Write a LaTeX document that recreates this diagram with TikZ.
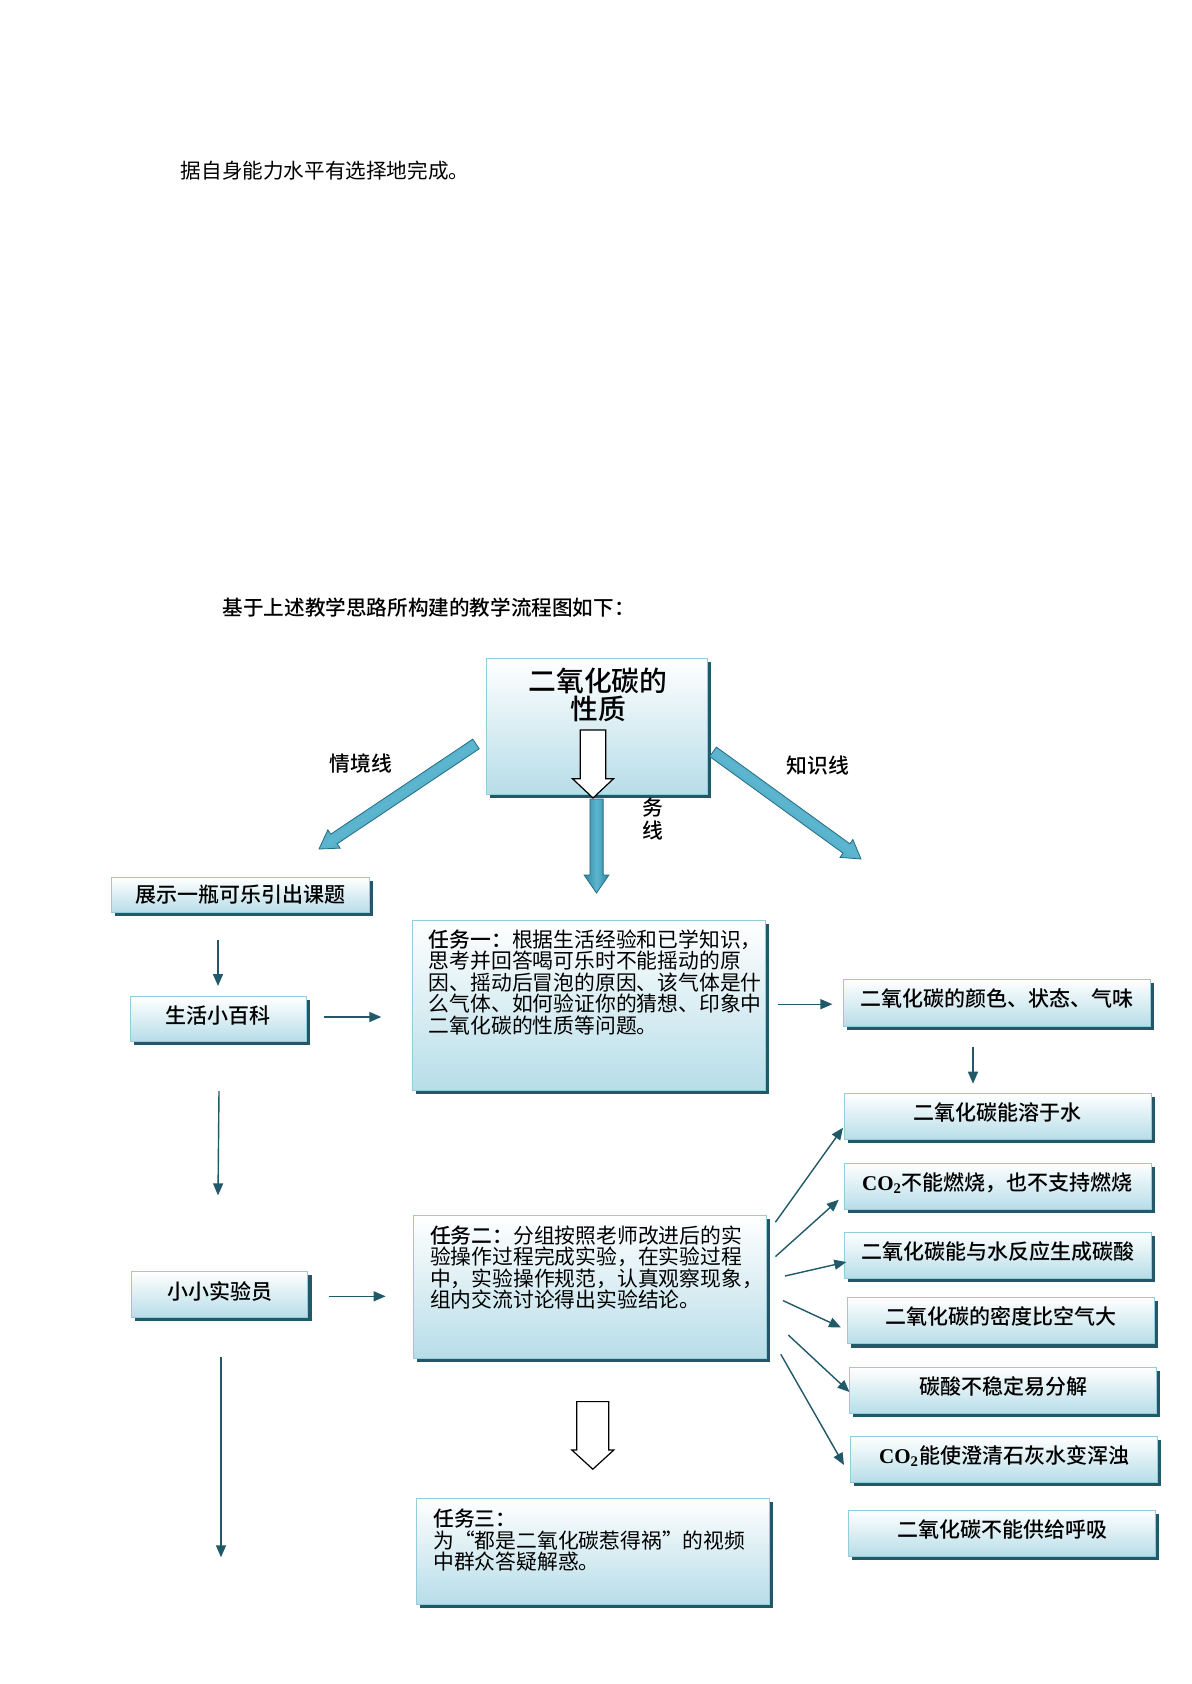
\documentclass[tikz,border=0pt]{standalone}
\usepackage{fontspec}
\setmainfont{Liberation Serif}
\newfontfamily\cjk{Noto Sans CJK SC}
\IfFontExistsTF{Noto Sans CJK SC Medium}
  {\newfontfamily\cjkm{Noto Sans CJK SC Medium}}
  {\newfontfamily\cjkm[FakeBold=1.2]{Noto Sans CJK SC}}
\newfontfamily\lsr{Liberation Serif}
\usetikzlibrary{arrows.meta,calc,shadows}
\definecolor{boxfill}{RGB}{183,221,232}
\definecolor{boxedge}{RGB}{147,205,221}
\definecolor{shadowc}{RGB}{33,89,104}
\definecolor{arrc}{RGB}{33,89,104}
\definecolor{tealD}{RGB}{46,136,163}
\definecolor{tealL}{RGB}{92,182,207}
\definecolor{tealB}{RGB}{36,108,130}
\newcommand{\fatarrow}[6]{%
  \coordinate (fa-h) at ($(#2)!#5!(#1)$);
  \path[#6] ($(#1)!#3!90:(#2)$) -- ($(fa-h)!#3!90:(#2)$) -- ($(fa-h)!#4!90:(#2)$) -- (#2)
     -- ($(fa-h)!#4!-90:(#2)$) -- ($(fa-h)!#3!-90:(#2)$) -- ($(#1)!#3!-90:(#2)$) -- cycle;}
\newcommand{\cotwo}{{\lsr\bfseries CO\textsubscript{2}}}
\begin{document}
\begin{tikzpicture}[x=0.5pt,y=-0.5pt,
  gbox/.style={rectangle, draw=boxedge, line width=0.5pt, top color=white, bottom color=boxfill,
    drop shadow={shadow xshift=1.8pt, shadow yshift=-1.8pt, opacity=1, fill=shadowc}, inner sep=0pt},
  lbl/.style={gbox, minimum width=153.5pt, minimum height=23.2pt,
    font=\cjkm\fontsize{10.5pt}{12pt}\selectfont, text depth=5pt},
  tasktxt/.style={anchor=north west, inner sep=0pt, align=left,
    font=\cjk\fontsize{10.4pt}{10.75pt}\selectfont},
  side/.style={inner sep=0pt, font=\cjkm\fontsize{10.4pt}{11pt}\selectfont, align=center},
  conn/.style={draw=arrc, line width=0.7pt, -{Triangle[length=6pt,width=5pt]}},
  hollow/.style={fill=white, draw=black, line width=0.6pt},
  tealarrow/.style={draw=tealB, line width=0.4pt, left color=tealD, right color=tealD, middle color=tealL}
]
\useasboundingbox (0,0) rectangle (1191,1684);
\fill[white] (0,0) rectangle (1191,1684);

% page text
\node[anchor=west, inner sep=0pt, font=\cjk\fontsize{10.3pt}{12pt}\selectfont] (p1) at (180.4,170.8) {据自身能力水平有选择地完成。};
\node[anchor=west, inner sep=0pt, font=\cjkm\fontsize{10.3pt}{12pt}\selectfont] (p2) at (222.3,607.9) {基于上述教学思路所构建的教学流程图如下：};

% top box
\node[gbox, minimum width=110.5pt, minimum height=68pt] (top) at (597,726.4) {};
\node[inner sep=0pt, align=center, font=\cjkm\fontsize{13.9pt}{14pt}\selectfont] (ttl) at (598,695) {二氧化碳的\\性质};
\coordinate (h1s) at (593,730);
\coordinate (h1e) at (593,798);
\fatarrow{h1s}{h1e}{6.4pt}{10.25pt}{9.65pt}{hollow}

% thick teal arrows
\coordinate (dS) at (596.5,799);
\coordinate (dE) at (596.5,893);
\fatarrow{dS}{dE}{3.3pt}{6.2pt}{9pt}{tealarrow}
\coordinate (lS) at (476,744);
\coordinate (lE) at (319,849);
\fatarrow{lS}{lE}{2.9pt}{5.5pt}{9pt}{tealarrow, shading angle=33.8}
\coordinate (rS) at (713,751.8);
\coordinate (rE) at (861,859);
\fatarrow{rS}{rE}{2.9pt}{5.5pt}{9pt}{tealarrow, shading angle=-35.9}

\node[side] (qj) at (361,763.6) {情境线};
\node[side] (zs) at (818,765.8) {知识线};
\node[side, font=\cjkm\fontsize{10.4pt}{11.2pt}\selectfont] (rw) at (653,819) {务\\线};

% left column
\node[gbox, minimum width=128.6pt, minimum height=17.5pt, font=\cjkm\fontsize{10.5pt}{12pt}\selectfont] (b1) at (240.4,895) {展示一瓶可乐引出课题};
\node[gbox, minimum width=88.4pt, minimum height=22.4pt, font=\cjkm\fontsize{10.5pt}{12pt}\selectfont, text depth=4pt] (b2) at (218.4,1019) {生活小百科};
\node[gbox, minimum width=88.4pt, minimum height=22.9pt, font=\cjkm\fontsize{10.5pt}{12pt}\selectfont, text depth=4pt] (b3) at (219.5,1294.5) {小小实验员};

% task boxes
\node[gbox, minimum width=176.5pt, minimum height=85.2pt] (t1) at (588.9,1005.6) {};
\node[tasktxt] (t1t) at (428.5,929) {{\cjkm 任务一：}根据生活经验和已学知识，\\思考并回答喝可乐时不能摇动的原\\因、摇动后冒泡的原因、该气体是什\\么气体、如何验证你的猜想、印象中\\二氧化碳的性质等问题。};
\node[gbox, minimum width=176.5pt, minimum height=71.2pt] (t2) at (590,1287) {};
\node[tasktxt] (t2t) at (429.6,1225) {{\cjkm 任务二：}分组按照老师改进后的实\\验操作过程完成实验，在实验过程\\中，实验操作规范，认真观察现象，\\组内交流讨论得出实验结论。};
\node[gbox, minimum width=176.5pt, minimum height=53pt] (t3) at (593.2,1551.2) {};
\node[tasktxt] (t3t) at (432.8,1508.6) {{\cjkm 任务三：}\\为“都是二氧化碳惹得祸”的视频\\中群众答疑解惑。};
\coordinate (h2s) at (592.8,1401.6);
\coordinate (h2e) at (592.8,1469.2);
\fatarrow{h2s}{h2e}{8pt}{10.5pt}{9.6pt}{hollow}

% knowledge boxes
\node[lbl] (k1) at (996.5,1002.8) {二氧化碳的颜色、状态、气味};
\node[lbl] (k2) at (997.5,1116.6) {二氧化碳能溶于水};
\node[lbl] (k3) at (997.5,1186.3) {\cotwo 不能燃烧，也不支持燃烧};
\node[lbl] (k4) at (997.5,1255.3) {二氧化碳能与水反应生成碳酸};
\node[lbl] (k5) at (1000.9,1320.7) {二氧化碳的密度比空气大};
\node[lbl] (k6) at (1003,1390.5) {碳酸不稳定易分解};
\node[lbl] (k7) at (1004.1,1459.3) {\cotwo 能使澄清石灰水变浑浊};
\node[lbl] (k8) at (1002,1533.3) {二氧化碳不能供给呼吸};

% thin connectors
\coordinate (a1s) at (218,939.8);   \coordinate (a1e) at (218,986);
\coordinate (a2s) at (219,1091);    \coordinate (a2e) at (218,1195.4);
\coordinate (a3s) at (221,1356.5);  \coordinate (a3e) at (221,1557.3);
\coordinate (a4s) at (324.3,1017);  \coordinate (a4e) at (381.3,1017);
\coordinate (a5s) at (328.6,1296.3);\coordinate (a5e) at (385.6,1296.3);
\coordinate (a6s) at (777.6,1004.2);\coordinate (a6e) at (832.4,1004.2);
\coordinate (a7s) at (973,1047);    \coordinate (a7e) at (973,1083.7);
\coordinate (f1s) at (775.4,1222.2);\coordinate (f1e) at (843,1127.7);
\coordinate (f2s) at (775.4,1256.6);\coordinate (f2e) at (838.8,1199.7);
\coordinate (f3s) at (785,1276);    \coordinate (f3e) at (846.3,1262);
\coordinate (f4s) at (783,1300.6);  \coordinate (f4e) at (841,1327.5);
\coordinate (f5s) at (788.3,1335);  \coordinate (f5e) at (849.5,1392);
\coordinate (f6s) at (780.8,1354.3);\coordinate (f6e) at (844,1465);
\foreach \s/\e in {a1s/a1e,a2s/a2e,a3s/a3e,a4s/a4e,a5s/a5e,a6s/a6e,a7s/a7e,f1s/f1e,f2s/f2e,f3s/f3e,f4s/f4e,f5s/f5e,f6s/f6e}
  \draw[conn] (\s) -- (\e);
\end{tikzpicture}
\end{document}
